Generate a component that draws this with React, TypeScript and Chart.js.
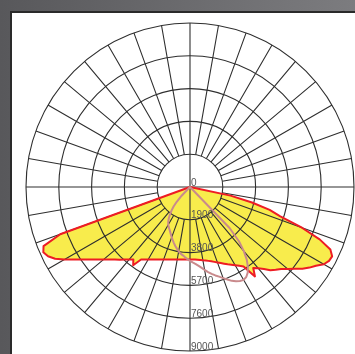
import { useEffect, useRef } from "react";
import { Chart, registerables } from "chart.js";

Chart.register(...registerables);

// gamma angles (deg), 0 = nadir, increasing towards the left side
const gammaAngles = Array.from({ length: 180 }, (_, i) => i * 2);

const tickLabels = ["0", "1900", "3800", "5700", "7600", "9000"];
const scaleMax = 9500;
const scaleStep = 1900;

// C0-C180 plane (yellow filled, red outline), cd
const planeC0 = [
  4200, 4205, 4215, 4225, 4245, 4270, 4300, 4330, 4370, 4420,
  4475, 4535, 4600, 4680, 4760, 4855, 4960, 5070, 5600, 5330,
  5490, 5660, 5850, 6050, 6280, 6540, 6830, 7150, 7520, 7930,
  8400, 8850, 9150, 9300, 9150, 8000,
  0, 0, 0, 0, 0, 0, 0, 0, 0, 0,
  0, 0, 0, 0, 0, 0, 0, 0, 0, 0,
  0, 0, 0, 0, 0, 0, 0, 0, 0, 0,
  0, 0, 0, 0, 0, 0, 0, 0, 0, 0,
  0, 0, 0, 0, 0, 0, 0, 0, 0, 0,
  0, 0, 0, 0, 0, 0, 0, 0, 0, 0,
  0, 0, 0, 0, 0, 0, 0, 0, 0, 0,
  0, 0, 0, 0, 0, 0, 0, 0, 0, 0,
  0, 0, 0, 0, 0, 0, 0, 0, 0, 0,
  0, 0, 0, 0, 0, 0, 0, 0, 0, 0,
  0, 0, 0, 0, 0,
  2400, 3700, 4800, 5500, 6900, 8100, 8900, 9160, 9120, 8950,
  8600, 8350, 8050, 7700, 7400, 7100, 6900, 6700, 6400, 6150,
  5950, 6400, 5550, 5380, 5230, 5100, 4980, 4860, 4750, 4650,
  4560, 4480, 4410, 4350, 4310, 4270, 4240, 4215, 4200,
];

// C90-C270 plane (pink outline), cd
const planeC90 = [
  4280, 4180, 4080, 3980, 3900, 3780, 3650, 3520, 3380, 3240,
  3100, 2960, 2830, 2720, 2630, 2520, 2380, 2200, 1980, 1740,
  1480, 1150, 700,
  0, 0, 0, 0, 0, 0, 0, 0, 0, 0,
  0, 0, 0, 0, 0, 0, 0, 0, 0, 0,
  0, 0, 0, 0, 0, 0, 0, 0, 0, 0,
  0, 0, 0, 0, 0, 0, 0, 0, 0, 0,
  0, 0, 0, 0, 0, 0, 0, 0, 0, 0,
  0, 0, 0, 0, 0, 0, 0, 0, 0, 0,
  0, 0, 0, 0, 0, 0, 0, 0, 0, 0,
  0, 0, 0, 0, 0, 0, 0, 0, 0, 0,
  0, 0, 0, 0, 0, 0, 0, 0, 0, 0,
  0, 0, 0, 0, 0, 0, 0, 0, 0, 0,
  0, 0, 0, 0, 0, 0, 0, 0, 0, 0,
  0, 0, 0, 0, 0, 0, 0, 0, 0, 0,
  0, 0, 0, 0, 0, 0, 0, 0, 0, 0,
  0, 0, 0, 0, 0,
  3300, 4250, 4850, 5340, 5700, 5980, 6150, 6210, 6170, 6080,
  5950, 5780, 5620, 5460, 5330, 5190, 5040, 4880, 4720, 4580,
  4460, 4370,
];

const GRID = "#2e2e2e";

export default function App() {
  const ref = useRef<HTMLCanvasElement>(null);

  useEffect(() => {
    const canvas = ref.current;
    if (!canvas) return;

    const overlay = {
      id: "overlay",
      beforeDatasetDraw(_chart: any, args: any) {
        if (args.index > 0) return false;
        return undefined;
      },
      afterDraw(chart: any) {
        [1, 2].forEach((i) => chart.getDatasetMeta(i).controller.draw());
        const s = chart.scales.r;
        const ctx = chart.ctx as CanvasRenderingContext2D;
        ctx.save();
        ctx.font = '10px "Liberation Sans", Arial, sans-serif';
        ctx.fillStyle = "#555555";
        ctx.textAlign = "left";
        ctx.textBaseline = "alphabetic";
        s.ticks.forEach((t: any) => {
          const d = s.getDistanceFromCenterForValue(t.value);
          ctx.fillText(t.label, s.xCenter + 1, s.yCenter + d - 1.5);
        });
        ctx.restore();
      },
    };

    const chart = new Chart(canvas, {
      type: "radar",
      data: {
        labels: gammaAngles,
        datasets: [
          {
            data: planeC0,
            backgroundColor: "#f8ec4c",
            borderColor: "rgba(0,0,0,0)",
            borderWidth: 1,
            fill: true,
            pointRadius: 0,
          },
          {
            data: planeC0,
            borderColor: "#ee1c24",
            borderWidth: 2,
            borderJoinStyle: "round",
            fill: false,
            pointRadius: 0,
          },
          {
            data: planeC90,
            borderColor: "#c98a8c",
            borderWidth: 2,
            borderJoinStyle: "round",
            fill: false,
            pointRadius: 0,
          },
        ],
      },
      options: {
        animation: false,
        responsive: false,
        events: [],
        layout: { padding: 6 },
        plugins: {
          legend: { display: false },
          tooltip: { enabled: false },
        },
        scales: {
          r: {
            min: 0,
            max: scaleMax,
            startAngle: 180,
            ticks: {
              stepSize: scaleStep,
              display: false,
              callback: (v: any, i: number) => tickLabels[i] ?? String(v),
            },
            grid: { circular: true, color: GRID, lineWidth: 1.1, z: 1 },
            angleLines: {
              display: true,
              color: GRID,
              lineWidth: (c: any) => (c.index % 5 === 0 ? 1.1 : 0),
              borderDash: (c: any) => {
                if (c.index % 45 === 0) return [];
                const s = c.chart.scales.r;
                const r0 = s.getDistanceFromCenterForValue(scaleStep);
                return [0, r0, 1000, 0];
              },
            },
            pointLabels: { display: false },
          },
        },
      },
      plugins: [overlay],
    } as any);

    return () => chart.destroy();
  }, []);

  return (
    <div
      style={{
        position: "fixed",
        left: 0,
        top: 0,
        width: 355,
        height: 354,
        overflow: "hidden",
        background: "linear-gradient(to right, #58585b, #7c7c7f)",
      }}
    >
      <div
        style={{
          position: "absolute",
          left: 10,
          top: 11,
          width: 360,
          height: 360,
          background: "#ffffff",
          borderLeft: "2px solid #2a2a2a",
          borderTop: "2px solid #2a2a2a",
        }}
      />
      <canvas
        ref={ref}
        width={340}
        height={340}
        style={{ position: "absolute", left: 20, top: 17, width: 340, height: 340 }}
      />
    </div>
  );
}
